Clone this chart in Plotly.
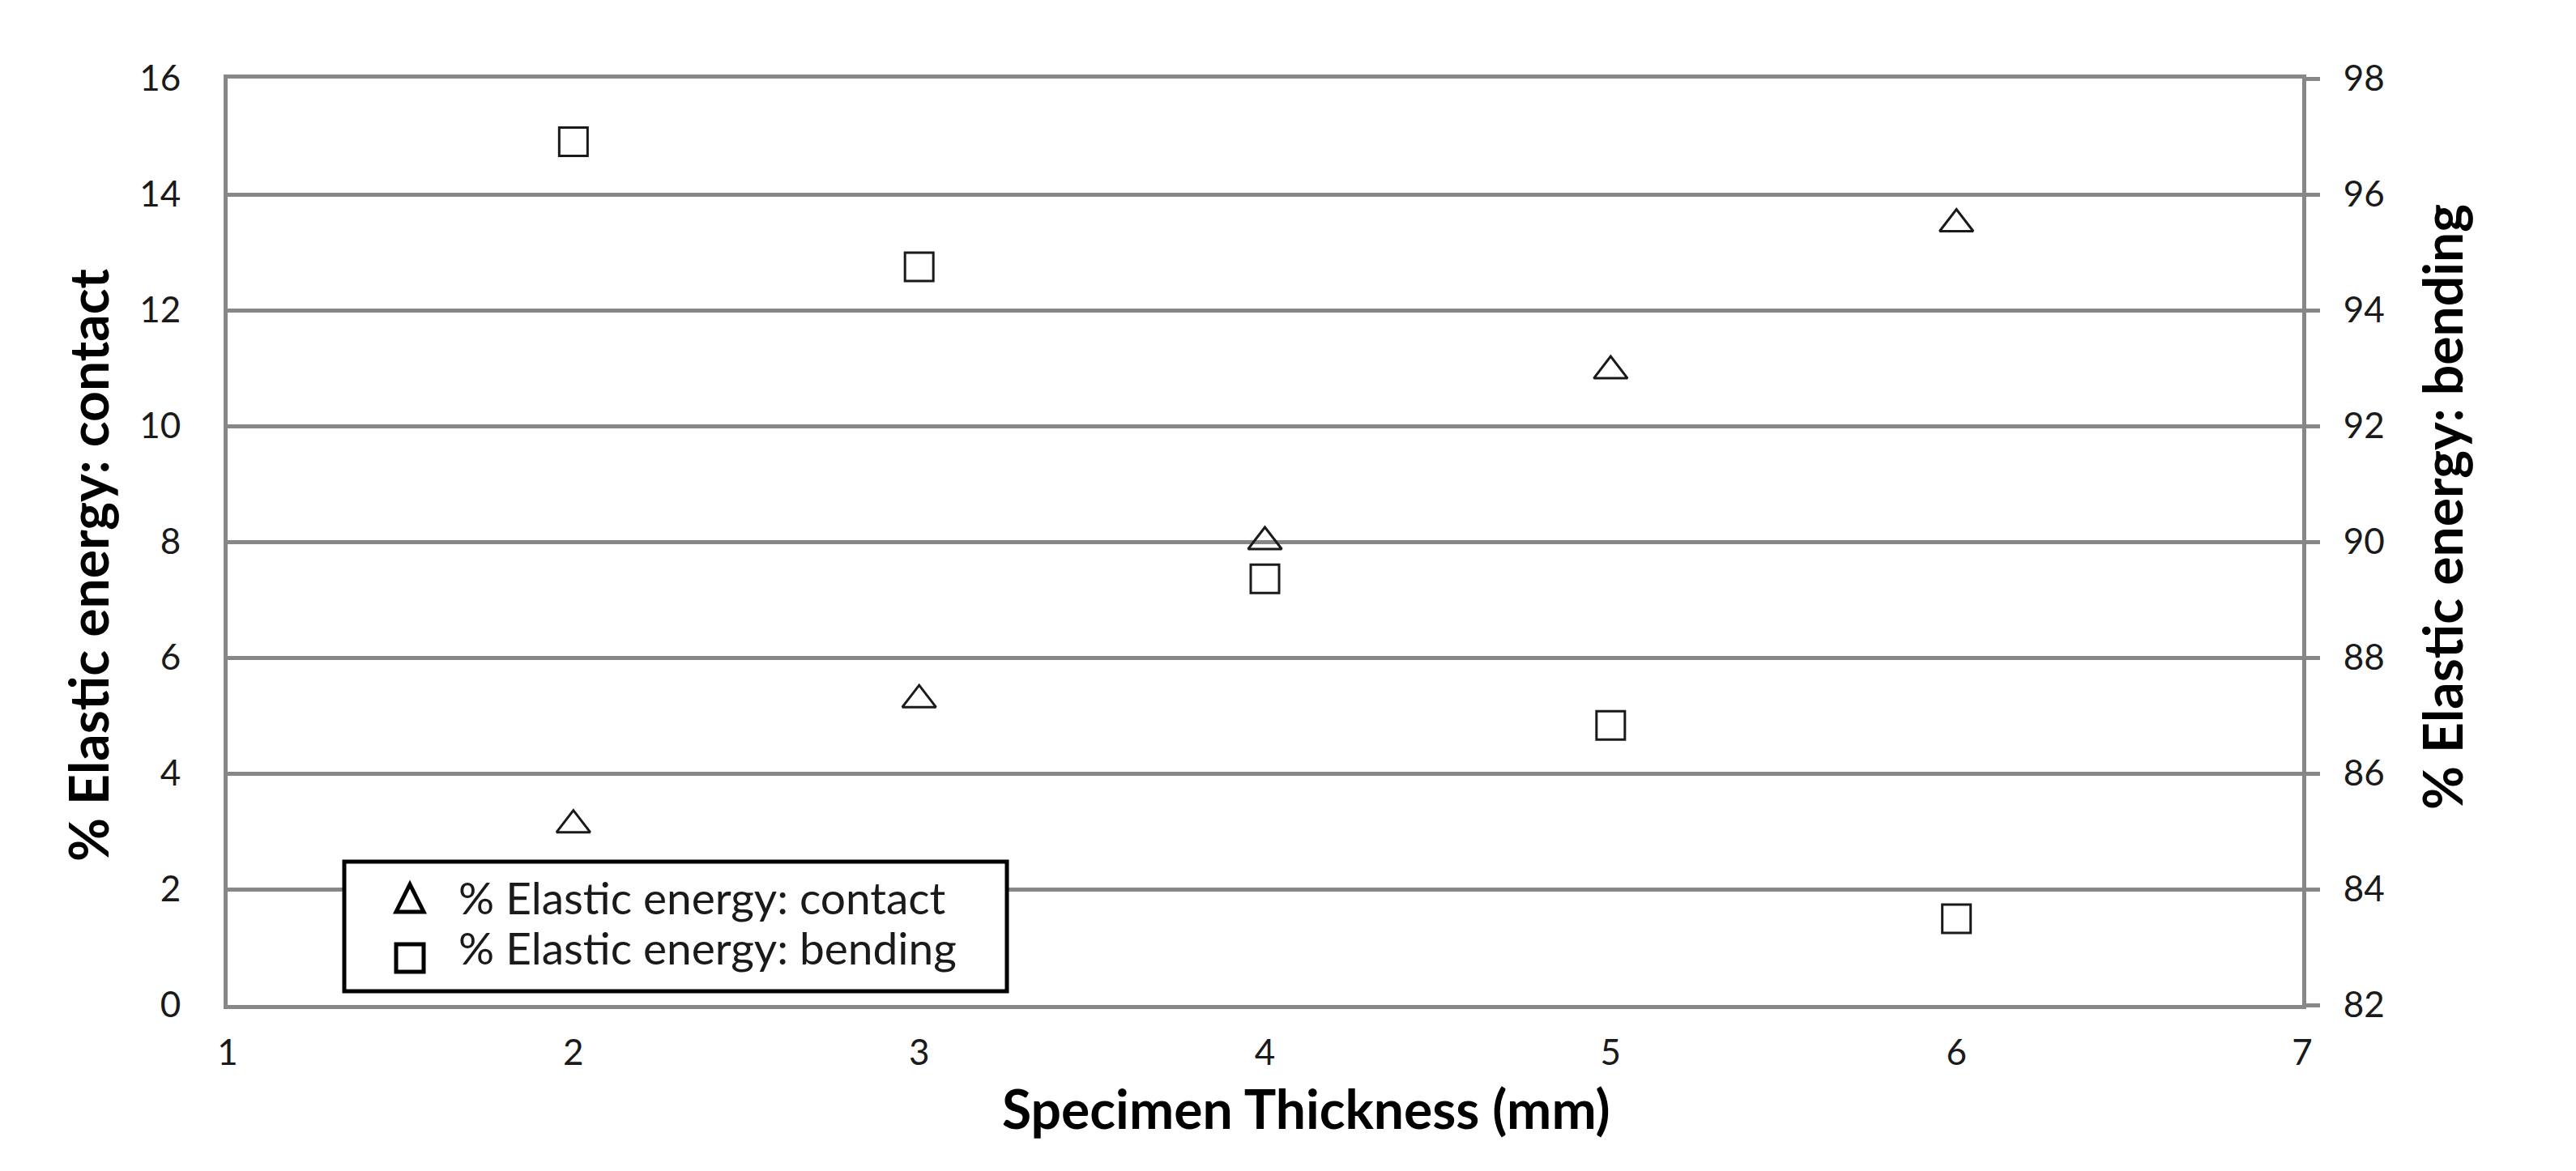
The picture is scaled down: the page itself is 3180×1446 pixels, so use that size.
import plotly.graph_objects as go

# specimen thickness (mm)
thickness = [2, 3, 4, 5, 6]

# % elastic energy
contact = [3.11, 5.27, 8.0, 10.95, 13.49]
bending = [96.91, 94.75, 89.36, 86.83, 83.49]

contact_name = "% Elastic energy: contact"
bending_name = "% Elastic energy: bending"
x_title = "Specimen Thickness (mm)"

W, H = 3180, 1446
L, R, T, B = 273, 346, 89, 213

GRID = "#878787"
INK = "#1a1a1a"
FONT = "Lato, Liberation Sans, sans-serif"


def px2x(px):
    return (px - L) / (W - L - R)


def px2y(py):
    return (H - B - py) / (H - T - B)


fig = go.Figure()

fig.add_trace(go.Scatter(
    x=thickness, y=contact, name=contact_name, mode="markers",
    marker=dict(symbol="triangle-up-open", size=36, color=INK,
                line=dict(width=3, color=INK)),
    yaxis="y",
))
fig.add_trace(go.Scatter(
    x=thickness, y=bending, name=bending_name, mode="markers",
    marker=dict(symbol="square-open", size=35, color=INK,
                line=dict(width=3, color=INK)),
    yaxis="y2",
))

# legend drawn by hand so the symbols can be as big as in the original
box = dict(l=417, r=1235, t=1056, b=1216)
fig.add_shape(type="rect", xref="paper", yref="paper",
              x0=px2x(box["l"]), x1=px2x(box["r"]),
              y0=px2y(box["b"]), y1=px2y(box["t"]),
              line=dict(color="black", width=5), fillcolor="white",
              layer="above")

cx, cy1, cy2, hs = 498, 1101, 1175, 17
tri = "M {:.5f},{:.5f} L {:.5f},{:.5f} L {:.5f},{:.5f} Z".format(
    px2x(cx - hs), px2y(cy1 + hs), px2x(cx + hs), px2y(cy1 + hs),
    px2x(cx), px2y(cy1 - hs))
fig.add_shape(type="path", xref="paper", yref="paper", path=tri,
              line=dict(color="black", width=5), layer="above")
fig.add_shape(type="rect", xref="paper", yref="paper",
              x0=px2x(cx - hs), x1=px2x(cx + hs),
              y0=px2y(cy2 + hs), y1=px2y(cy2 - hs),
              line=dict(color="black", width=5), layer="above")

for name, cy in [(contact_name, 1100), (bending_name, 1162)]:
    fig.add_annotation(text=name, xref="paper", yref="paper",
                       x=px2x(556), y=px2y(cy), xanchor="left",
                       yanchor="middle", showarrow=False,
                       font=dict(family=FONT, size=55, color=INK))

title_font = dict(family=FONT, size=66, color="black")

# axis titles placed where the original has them
fig.add_annotation(text="<b>" + x_title + "</b>", xref="paper", yref="paper",
                   x=px2x(1604), y=px2y(1360), showarrow=False,
                   xanchor="center", yanchor="middle", font=title_font)
fig.add_annotation(text="<b>" + contact_name + "</b>", xref="paper",
                   yref="paper", x=px2x(100), y=px2y(690), textangle=-90,
                   showarrow=False, xanchor="center", yanchor="middle",
                   font=title_font)
fig.add_annotation(text="<b>" + bending_name + "</b>", xref="paper",
                   yref="paper", x=px2x(3006), y=px2y(618), textangle=-90,
                   showarrow=False, xanchor="center", yanchor="middle",
                   font=title_font)

tick_font = dict(family=FONT, size=44, color=INK)

fig.update_layout(
    width=W, height=H,
    margin=dict(l=L, r=R, t=T, b=B, pad=0),
    paper_bgcolor="white", plot_bgcolor="white",
    showlegend=False,
    xaxis=dict(
        range=[1, 7], dtick=1, showgrid=False, zeroline=False,
        showline=True, linecolor=GRID, linewidth=5, mirror=True,
        ticks="", tickfont=tick_font, ticklabelstandoff=16,
    ),
    yaxis=dict(
        range=[0, 16], dtick=2, showgrid=True, gridcolor=GRID,
        gridwidth=5, zeroline=False, showline=True, linecolor=GRID,
        linewidth=5, ticks="", tickfont=tick_font, ticklabelstandoff=44,
    ),
    yaxis2=dict(
        range=[82, 98], dtick=2, overlaying="y", side="right",
        showgrid=False, zeroline=False, showline=True, linecolor=GRID,
        linewidth=5, ticks="outside", ticklen=17, tickwidth=5,
        tickcolor=GRID, tickfont=tick_font, ticklabelstandoff=20,
    ),
)

fig.write_html("out.html")
